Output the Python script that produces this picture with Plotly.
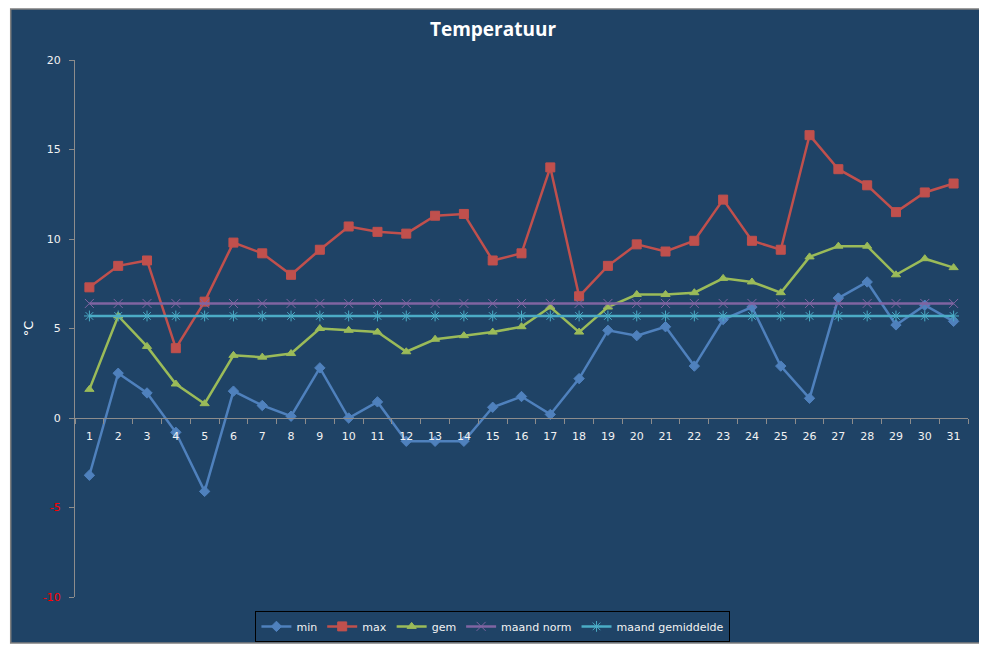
import plotly.graph_objects as go

days = list(range(1, 32))

t_min = [-3.2, 2.5, 1.4, -0.8, -4.1, 1.5, 0.7, 0.1, 2.8, 0.0, 0.9, -1.3, -1.3, -1.3, 0.6, 1.2,
         0.2, 2.2, 4.9, 4.6, 5.1, 2.9, 5.5, 6.2, 2.9, 1.1, 6.7, 7.6, 5.2, 6.3, 5.4]
t_max = [7.3, 8.5, 8.8, 3.9, 6.5, 9.8, 9.2, 8.0, 9.4, 10.7, 10.4, 10.3, 11.3, 11.4, 8.8, 9.2,
         14.0, 6.8, 8.5, 9.7, 9.3, 9.9, 12.2, 9.9, 9.4, 15.8, 13.9, 13.0, 11.5, 12.6, 13.1]
t_gem = [1.6, 5.7, 4.0, 1.9, 0.8, 3.5, 3.4, 3.6, 5.0, 4.9, 4.8, 3.7, 4.4, 4.6, 4.8, 5.1,
         6.2, 4.8, 6.2, 6.9, 6.9, 7.0, 7.8, 7.6, 7.0, 9.0, 9.6, 9.6, 8.0, 8.9, 8.4]
maand_norm = [6.4] * 31
maand_gem = [5.7] * 31

y_ticks = [-10, -5, 0, 5, 10, 15, 20]

bg = "#1F4366"
txt = "#F2F2F2"
axis_col = "#8C8C8C"

series = [
    ("min", t_min, "#4F81BD", "diamond", 8),
    ("max", t_max, "#C0504D", "square", 9),
    ("gem", t_gem, "#9BBB59", "triangle-up", 8),
    ("maand norm", maand_norm, "#8064A2", "x-thin-open", 9),
    ("maand gemiddelde", maand_gem, "#4BACC6", "asterisk-open", 9),
]

fig = go.Figure()
for name, vals, col, sym, sz in series:
    fig.add_trace(go.Scatter(
        x=days, y=vals, name=name, mode="lines+markers",
        line=dict(color=col, width=2.5),
        marker=dict(symbol=sym, size=sz, color=col, line=dict(color=col, width=1)),
    ))

# tick labels, negatives in red
y_text = []
for v in y_ticks:
    if v < 0:
        y_text.append('<span style="color:#FF0000">%d</span>' % v)
    else:
        y_text.append(str(v))

# page body has an 8px margin, so the figure is a bit smaller than the window
fig.update_layout(
    width=979, height=640,
    paper_bgcolor="white", plot_bgcolor=bg,
    margin=dict(l=67, r=19, t=52, b=51, autoexpand=False),
    font=dict(family="DejaVu Sans", size=11, color=txt),
    title=dict(text="<b>Temperatuur</b>", x=0.4954, xanchor="center", y=0.966, yanchor="middle",
               font=dict(family="Open Sans", size=19, color="white")),
    showlegend=True,
    legend=dict(orientation="h", x=0.468, xanchor="center",
                yref="container", y=0.058, yanchor="top",
                bordercolor="black", borderwidth=1, bgcolor=bg,
                font=dict(family="DejaVu Sans", size=11, color=txt),
                itemwidth=30),
    shapes=[dict(type="rect", xref="paper", yref="paper", x0=-0.072, x1=1.0157,
                 y0=-0.0857, y1=1.095, fillcolor=bg, line=dict(color="#7F7F7F", width=1.5),
                 layer="below")],
)

fig.update_xaxes(
    range=[0.5, 31.5], tickvals=days, ticktext=[str(d) for d in days],
    showgrid=False, zeroline=False, showline=True, linecolor=axis_col, linewidth=1,
    anchor="free", position=1 / 3, ticks="", ticklabelstandoff=8,
    minor=dict(tick0=0.5, dtick=1, ticks="outside", ticklen=5, tickcolor=axis_col),
    tickfont=dict(color=txt, size=11),
)
fig.update_yaxes(
    range=[-10, 20], tickvals=y_ticks, ticktext=y_text,
    showgrid=False, zeroline=False, showline=True, linecolor=axis_col, linewidth=1,
    ticks="outside", ticklen=5, tickcolor=axis_col, ticklabelstandoff=6,
    title=dict(text="°C", font=dict(color="white", size=13), standoff=6),
    tickfont=dict(color=txt, size=11),
)

fig.write_html("out.html")
